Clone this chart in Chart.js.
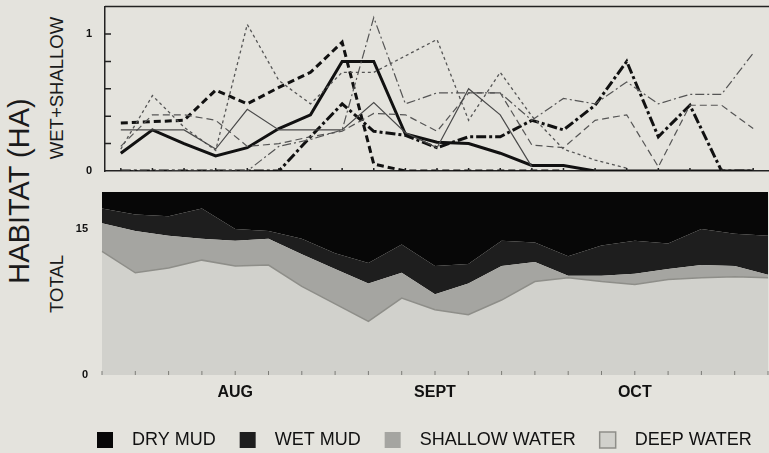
<!DOCTYPE html>
<html lang="en">
<head>
    <meta charset="UTF-8">
    <title>Habitat (ha)</title>
    <script src="https://cdn.jsdelivr.net/npm/chart.js"></script>
    <style>
        html, body {
            margin: 0;
            width: 769px;
            height: 453px;
            overflow: hidden;
            background: #e4e3dd;
            font-family: "Liberation Sans", Arial, sans-serif;
            color: #1a1a1a;
        }
        canvas { position: absolute; left: 0; }
        #topChart { top: 0; }
        #bottomChart { top: 180px; }
        .vlabel {
            position: absolute;
            transform: translate(-50%, -50%) rotate(-90deg);
            white-space: nowrap;
            line-height: 1;
        }
    </style>
</head>
<body>
    <div class="vlabel" style="left:19px; top:191px; font-size:29px;">HABITAT (HA)</div>
    <div class="vlabel" style="left:57px; top:88px; font-size:18.5px;">WET+SHALLOW</div>
    <div class="vlabel" style="left:57px; top:284px; font-size:18.5px;">TOTAL</div>

    <canvas id="topChart" width="769" height="180"></canvas>
    <canvas id="bottomChart" width="800" height="279"></canvas>

    <script>
        // sample dates, only the month marks are labelled
        const sampleLabels = ['', '', '', '', 'AUG', '', '', '', '', '', 'SEPT', '', '', '', '', '', 'OCT', '', '', '', ''];

        // top panel: wet + shallow habitat (ha), one line per unit
        const heavySolid   = [0.13, 0.30, 0.20, 0.11, 0.17, 0.31, 0.41, 0.80, 0.80, 0.27, 0.21, 0.20, 0.13, 0.04, 0.04, 0, 0, 0, 0, 0, 0];
        const heavyDashed  = [0.35, 0.36, 0.37, 0.59, 0.49, 0.61, 0.72, 0.94, 0.05, 0, 0, 0, 0, 0, 0, null, null, null, null, null, null];
        const heavyDashDot = [0, 0, 0, 0, 0, 0, 0.25, 0.49, 0.29, 0.26, 0.17, 0.25, 0.25, 0.37, 0.30, 0.48, 0.80, 0.25, 0.48, 0, 0];
        const lightSolid   = [0.30, 0.30, 0.30, 0.16, 0.45, 0.30, 0.30, 0.30, 0.50, 0.28, 0.17, 0.60, 0.41, 0.03, null, null, null, null, null, null, null];
        const lightDotted  = [0.16, 0.55, 0.32, 0.15, 1.07, 0.66, 0.49, 0.72, 0.72, 0.84, 0.96, 0.37, 0.72, 0.40, 0.16, 0.08, 0.02, null, null, null, null];
        const lightDashDot = [0, 0, 0, 0, 0, 0.18, 0.23, 0.30, 1.12, 0.49, 0.57, 0.57, 0.57, 0.37, 0.53, 0.49, 0.65, 0.49, 0.56, 0.56, 0.86];
        const lightDashed  = [0.18, 0.41, 0.41, 0.37, 0.18, 0.20, 0.25, 0.29, 0.42, 0.41, 0.29, 0.57, 0.57, 0.19, 0.17, 0.37, 0.41, 0.03, 0.48, 0.48, 0.31];
        const wetTicks = [0, 1];
        const wetMinorTicks = [0.2, 0.4, 0.6, 0.8, 1.0];

        // bottom panel: total habitat (ha), stacked
        const deepWater    = [12.7, 10.5, 11.0, 11.8, 11.2, 11.3, 9.1, 7.3, 5.5, 7.9, 6.7, 6.2, 7.7, 9.6, 10.0, 9.6, 9.3, 9.8, 10.0, 10.1, 10.0];
        const shallowWater = [2.9, 4.3, 3.3, 2.2, 2.6, 2.7, 3.3, 3.6, 3.9, 2.6, 1.6, 3.2, 3.5, 2.0, 0.2, 0.6, 1.1, 1.1, 1.3, 1.1, 0.3];
        const wetMud       = [1.5, 1.7, 2.0, 3.1, 1.2, 0.8, 1.6, 1.6, 2.1, 2.9, 2.9, 2.0, 2.6, 2.0, 2.0, 3.1, 3.4, 2.6, 3.7, 3.3, 4.0];
        const dryMud       = [1.7, 2.3, 2.5, 1.7, 3.8, 4.0, 4.8, 6.3, 7.3, 5.4, 7.6, 7.4, 5.0, 5.2, 6.6, 5.5, 5.0, 5.3, 3.8, 4.3, 4.5];
        const totalTicks = [0, 15];

        Chart.defaults.font.family = '"Liberation Sans", Arial, sans-serif';
        Chart.defaults.color = '#111';

        // small tick marks pointing into the plot, plus the top frame line
        const edgeTicks = {
            id: 'edgeTicks',
            afterDatasetsDraw(chart, args, opts) {
                const { ctx, chartArea } = chart;
                const { left, right, top, bottom } = chartArea;
                ctx.save();
                ctx.strokeStyle = opts.color;
                ctx.lineWidth = opts.width;
                ctx.beginPath();
                (opts.yValues || []).forEach(v => {
                    const y = chart.scales.y.getPixelForValue(v);
                    ctx.moveTo(left, y);
                    ctx.lineTo(left + opts.len, y);
                });
                if (opts.xLen) {
                    chart.data.labels.forEach((l, i) => {
                        const x = chart.scales.x.getPixelForValue(i);
                        ctx.moveTo(x, bottom);
                        ctx.lineTo(x, bottom - opts.xLen);
                    });
                }
                if (opts.topLine) {
                    ctx.moveTo(left, top);
                    ctx.lineTo(right, top);
                }
                ctx.stroke();
                ctx.restore();
            }
        };

        function line(label, data, color, width, dash) {
            return {
                label: label,
                data: data,
                borderColor: color,
                borderWidth: width,
                borderDash: dash,
                pointRadius: 0,
                fill: false,
                tension: 0
            };
        }

        new Chart(document.getElementById('topChart'), {
            type: 'line',
            data: {
                labels: sampleLabels,
                datasets: [
                    line('Unit 4', lightSolid, '#4a4a4a', 1.2, []),
                    line('Unit 5', lightDotted, '#555', 1.3, [3, 3]),
                    line('Unit 6', lightDashDot, '#555', 1.2, [9, 3, 2, 3]),
                    line('Unit 7', lightDashed, '#555', 1.2, [7, 4]),
                    line('Unit 3', heavyDashDot, '#111', 3, [10, 3, 3, 3]),
                    line('Unit 2', heavyDashed, '#111', 3, [7, 4]),
                    line('Unit 1', heavySolid, '#111', 3, [])
                ]
            },
            options: {
                responsive: false,
                animation: false,
                layout: { padding: { left: 60, top: 6, right: 0, bottom: 0 } },
                plugins: {
                    legend: { display: false },
                    tooltip: { enabled: false },
                    edgeTicks: { color: '#222', width: 1.5, len: 6, xLen: 3, yValues: wetMinorTicks, topLine: true }
                },
                scales: {
                    x: {
                        offset: true,
                        grid: { display: false, drawTicks: false },
                        border: { display: true, color: '#222', width: 1.5 },
                        ticks: { display: false },
                        afterFit: s => { s.height = 9; }
                    },
                    y: {
                        min: 0,
                        max: 1.2,
                        // tick marks are not drawn, tickLength only keeps the labels off the axis
                        grid: { display: false, drawTicks: true, tickLength: 13 },
                        border: { display: true, color: '#222', width: 1.5 },
                        ticks: { padding: 0, font: { size: 11, weight: 'bold' } },
                        afterBuildTicks: s => { s.ticks = wetTicks.map(v => ({ value: v })); },
                        afterFit: s => { s.width = 45; }
                    }
                }
            },
            plugins: [edgeTicks]
        });

        new Chart(document.getElementById('bottomChart'), {
            type: 'line',
            data: {
                labels: sampleLabels,
                datasets: [
                    { label: 'DEEP WATER', data: deepWater, backgroundColor: '#d1d1cc', borderColor: '#8e8e89', borderWidth: 1.5, fill: 'origin' },
                    { label: 'SHALLOW WATER', data: shallowWater, backgroundColor: '#a5a5a1', borderColor: '#a5a5a1', borderWidth: 0, fill: '-1' },
                    { label: 'WET MUD', data: wetMud, backgroundColor: '#1e1e1e', borderColor: '#1e1e1e', borderWidth: 0, fill: '-1' },
                    { label: 'DRY MUD', data: dryMud, backgroundColor: '#070707', borderColor: '#070707', borderWidth: 0, fill: '-1' }
                ].map(d => Object.assign(d, { pointRadius: 0, tension: 0 }))
            },
            options: {
                responsive: false,
                animation: false,
                layout: { padding: { left: 73, top: 12, right: 0, bottom: 0 } },
                plugins: {
                    tooltip: { enabled: false },
                    legend: {
                        position: 'bottom',
                        align: 'start',
                        reverse: true,
                        labels: {
                            boxWidth: 16,
                            boxHeight: 16,
                            padding: 24,
                            color: '#111',
                            font: { size: 18 },
                            generateLabels: chart => Chart.defaults.plugins.legend.labels.generateLabels(chart)
                                .map(item => Object.assign(item, { text: '  ' + item.text }))
                        }
                    },
                    edgeTicks: { color: '#7d7d78', width: 1, len: 4, xLen: 4 }
                },
                scales: {
                    x: {
                        grid: { display: false, drawTicks: false },
                        border: { display: false },
                        ticks: { padding: 8, autoSkip: false, maxRotation: 0, font: { size: 16, weight: 'bold' } },
                        afterFit: s => { s.height = 32; }
                    },
                    y: {
                        stacked: true,
                        min: 0,
                        max: 18.8,
                        grid: { display: false, drawTicks: true, tickLength: 14 },
                        border: { display: false },
                        ticks: { padding: 0, font: { size: 11, weight: 'bold' } },
                        afterBuildTicks: s => { s.ticks = totalTicks.map(v => ({ value: v })); },
                        afterFit: s => { s.width = 29; }
                    },
                    // spacer on the right so the plot ends at the page edge
                    yRight: {
                        position: 'right',
                        grid: { display: false, drawTicks: false },
                        border: { display: false },
                        ticks: { display: false },
                        afterFit: s => { s.width = 32; }
                    }
                }
            },
            plugins: [edgeTicks]
        });
    </script>
</body>
</html>
